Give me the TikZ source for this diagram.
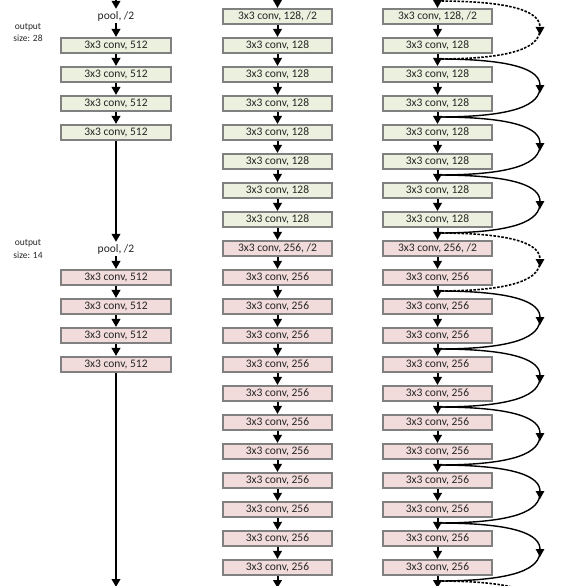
\documentclass[tikz,border=0pt]{standalone}
\usepackage{fontspec}
\setmainfont{Carlito}
\usetikzlibrary{arrows.meta}

\definecolor{convgreen}{HTML}{EBF1DE}
\definecolor{convpink}{HTML}{F2DCDB}
\definecolor{boxedge}{HTML}{808080}

\tikzset{
  layer/.style={draw=boxedge, line width=1.6pt, minimum width=109.5pt,
    minimum height=15.5pt, inner sep=0pt, text=black!85,
    font=\fontsize{11.5}{13}\selectfont},
  pooltext/.style={inner sep=2pt, text=black!85, font=\fontsize{11.5}{13}\selectfont},
  sizetext/.style={inner sep=0pt, align=center, text=black!85,
    font=\fontsize{9.5}{12.5}\selectfont},
  flow/.style={line width=2pt, -{Triangle[width=8.5pt,length=8pt]}},
  shortcut/.style={line width=1.4pt},
  projection/.style={line width=1.6pt, dash pattern=on 2.5pt off 1.5pt},
  skiptip/.style={-{Triangle[width=8.5pt,length=8pt]}},
}

\begin{document}
\begin{tikzpicture}[x=1pt,y=-1pt]
\useasboundingbox (0,0) rectangle (562,586);
\clip (0,0) rectangle (562,586);

% ---------- left column: plain network ----------
\node[sizetext] (out28) at (28,32.5) {output\\size: 28};
\node[sizetext] (out14) at (28,249) {output\\size: 14};

\node[pooltext] (p0) at (116,16) {pool, /2};
\node[pooltext] (p8) at (116,249) {pool, /2};
\foreach \k in {1,2,3,4}{
  \pgfmathsetmacro\yy{16.5+29*\k}
  \node[layer, fill=convgreen] (a\k) at (116,\yy) {3x3 conv, 512};
}
\foreach \k in {9,10,11,12}{
  \pgfmathsetmacro\yy{16.5+29*\k}
  \node[layer, fill=convpink] (a\k) at (116,\yy) {3x3 conv, 512};
}
\coordinate (in1) at (116,-2);
\coordinate (end1) at (116,587);
\draw[flow] (in1) -- (p0.north);
\draw[flow] (p0.south) -- (a1.north);
\draw[flow] (a1.south) -- (a2.north);
\draw[flow] (a2.south) -- (a3.north);
\draw[flow] (a3.south) -- (a4.north);
\draw[flow] (a4.south) -- (p8.north);
\draw[flow] (p8.south) -- (a9.north);
\draw[flow] (a9.south) -- (a10.north);
\draw[flow] (a10.south) -- (a11.north);
\draw[flow] (a11.south) -- (a12.north);
\draw[flow] (a12.south) -- (end1);

% ---------- middle and right columns ----------
\foreach \k in {0,...,19}{
  \pgfmathsetmacro\yy{16.5+29*\k}
  \ifnum\k<8 \def\fc{convgreen}\def\ch{128}\else \def\fc{convpink}\def\ch{256}\fi
  \ifnum\k=0 \def\sfx{, /2}\else\ifnum\k=8 \def\sfx{, /2}\else\def\sfx{}\fi\fi
  \node[layer, fill=\fc] (b\k) at (277.5,\yy) {3x3 conv, \ch\sfx};
  \node[layer, fill=\fc] (r\k) at (437.5,\yy) {3x3 conv, \ch\sfx};
}
\coordinate (in2) at (277.5,-2);
\coordinate (in3) at (437.5,-2);
\coordinate (end2) at (277.5,588);
\coordinate (end3) at (437.5,588);
\draw[flow] (in2) -- (b0.north);
\draw[flow] (in3) -- (r0.north);
\foreach \k [evaluate=\k as \n using int(\k+1)] in {0,...,18}{
  \draw[flow] (b\k.south) -- (b\n.north);
  \draw[flow] (r\k.south) -- (r\n.north);
}
\draw[flow] (b19.south) -- (end2);
\draw[flow] (r19.south) -- (end3);

% ---------- shortcut connections ----------
% j: junction on the main path, t: tip of the arrow at the far right,
% m: point inside that arrow tip where the return half starts
\foreach \k in {0,2,...,22}{
  \pgfmathsetmacro\jy{29*\k+1}
  \pgfmathsetmacro\ty{29*\k+35}
  \pgfmathsetmacro\my{29*\k+29}
  \coordinate (j\k) at (437.5,\jy);
  \coordinate (t\k) at (540,\ty);
  \coordinate (m\k) at (540,\my);
}
\foreach \k/\n/\st in {0/2/projection, 2/4/shortcut, 4/6/shortcut, 6/8/shortcut,
    8/10/projection, 10/12/shortcut, 12/14/shortcut, 14/16/shortcut,
    16/18/shortcut, 18/20/shortcut, 20/22/projection}{
  \draw[\st, skiptip] (j\k) .. controls +(80,0) and +(0,-22) .. (t\k);
  \draw[\st] (m\k) .. controls +(0,17) and +(80,0) .. (j\n);
}
\end{tikzpicture}
\end{document}
